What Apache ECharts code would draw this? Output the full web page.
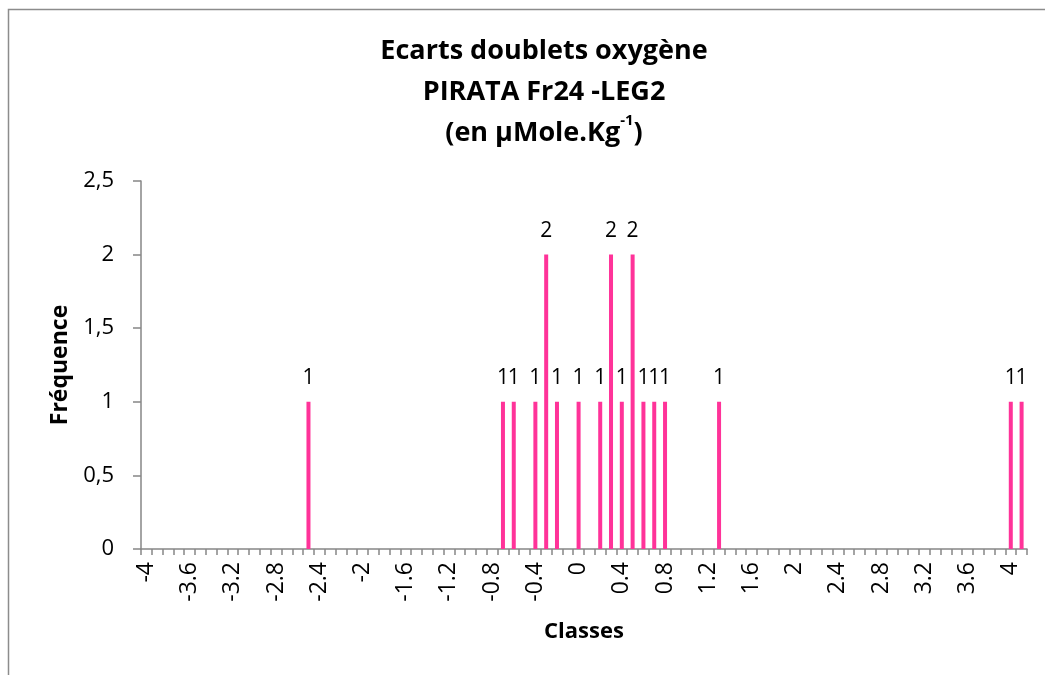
<!DOCTYPE html>
<html>
<head>
<meta charset="utf-8">
<script src="https://cdn.jsdelivr.net/npm/echarts@6/dist/echarts.min.js"></script>
<style>
html,body{margin:0;padding:0;background:#fff;}
#chart{width:1045px;height:675px;}
</style>
</head>
<body>
<div id="chart"></div>
<script>
var categories = [
  "-4","-3.9","-3.8","-3.7","-3.6","-3.5","-3.4","-3.3","-3.2","-3.1",
  "-3","-2.9","-2.8","-2.7","-2.6","-2.5","-2.4","-2.3","-2.2","-2.1",
  "-2","-1.9","-1.8","-1.7","-1.6","-1.5","-1.4","-1.3","-1.2","-1.1",
  "-1","-0.9","-0.8","-0.7","-0.6","-0.5","-0.4","-0.3","-0.2","-0.1",
  "0","0.1","0.2","0.3","0.4","0.5","0.6","0.7","0.8","0.9",
  "1","1.1","1.2","1.3","1.4","1.5","1.6","1.7","1.8","1.9",
  "2","2.1","2.2","2.3","2.4","2.5","2.6","2.7","2.8","2.9",
  "3","3.1","3.2","3.3","3.4","3.5","3.6","3.7","3.8","3.9",
  "4","4.1"
];
var frequencies = [
  0,0,0,0,0,0,0,0,0,0,
  0,0,0,0,0,1,0,0,0,0,
  0,0,0,0,0,0,0,0,0,0,
  0,0,0,1,1,0,1,2,1,0,
  1,0,1,2,1,2,1,1,1,0,
  0,0,0,1,0,0,0,0,0,0,
  0,0,0,0,0,0,0,0,0,0,
  0,0,0,0,0,0,0,0,0,0,
  1,1
];
var yTicks = [0, 0.5, 1, 1.5, 2, 2.5];

var FONT = '"Open Sans"';
var chart = echarts.init(document.getElementById('chart'), null, {renderer: 'canvas'});
chart.setOption({
  animation: false,
  backgroundColor: '#ffffff',
  title: {
    text: 'Ecarts doublets oxygène\nPIRATA Fr24 -LEG2\n(en µMole.Kg{sup|-1})',
    left: 539,
    textAlign: 'center',
    top: 26,
    textStyle: {
      fontFamily: FONT, fontWeight: 'bold', fontSize: 27, lineHeight: 41, color: '#000',
      rich: {
        sup: {fontFamily: FONT, fontWeight: 'bold', fontSize: 15, lineHeight: 27, verticalAlign: 'top', color: '#000'}
      }
    }
  },
  graphic: [{
    type: 'rect', silent: true, z: -1,
    shape: {x: 8.5, y: 9.5, width: 1100, height: 700},
    style: {fill: 'none', stroke: '#8c8c8c', lineWidth: 1.5}
  }],
  grid: {left: 141, right: 18, top: 181, bottom: 126, containLabel: false},
  xAxis: {
    type: 'category',
    data: categories,
    name: 'Classes',
    nameLocation: 'middle',
    nameGap: 72,
    nameTextStyle: {fontFamily: FONT, fontWeight: 'bold', fontSize: 22, color: '#000'},
    axisLine: {lineStyle: {color: '#868686', width: 1.5}},
    axisTick: {show: true, interval: 0, length: 6, lineStyle: {color: '#868686', width: 1.5}},
    axisLabel: {interval: 3, rotate: 90, margin: 13, fontFamily: FONT, fontSize: 23, color: '#000'},
    splitLine: {show: false}
  },
  yAxis: {
    type: 'value',
    min: yTicks[0],
    max: yTicks[yTicks.length - 1],
    interval: 0.5,
    name: 'Fréquence',
    nameLocation: 'middle',
    nameGap: 68,
    nameRotate: 90,
    nameTextStyle: {fontFamily: FONT, fontWeight: 'bold', fontSize: 23, color: '#000'},
    axisLine: {show: true, lineStyle: {color: '#868686', width: 1.5}},
    axisTick: {show: true, length: 8, lineStyle: {color: '#868686', width: 1.5}},
    axisLabel: {
      margin: 27, fontFamily: FONT, fontSize: 22, color: '#000',
      formatter: function (v) { return String(v).replace('.', ','); }
    },
    splitLine: {show: false}
  },
  series: [{
    type: 'bar',
    data: frequencies,
    barWidth: 4,
    itemStyle: {color: '#FF3399'},
    label: {
      show: true, position: 'top', distance: 13,
      fontFamily: FONT, fontSize: 21, color: '#000',
      formatter: function (p) { return p.value ? String(p.value) : ''; }
    }
  }]
});
</script>
</body>
</html>
